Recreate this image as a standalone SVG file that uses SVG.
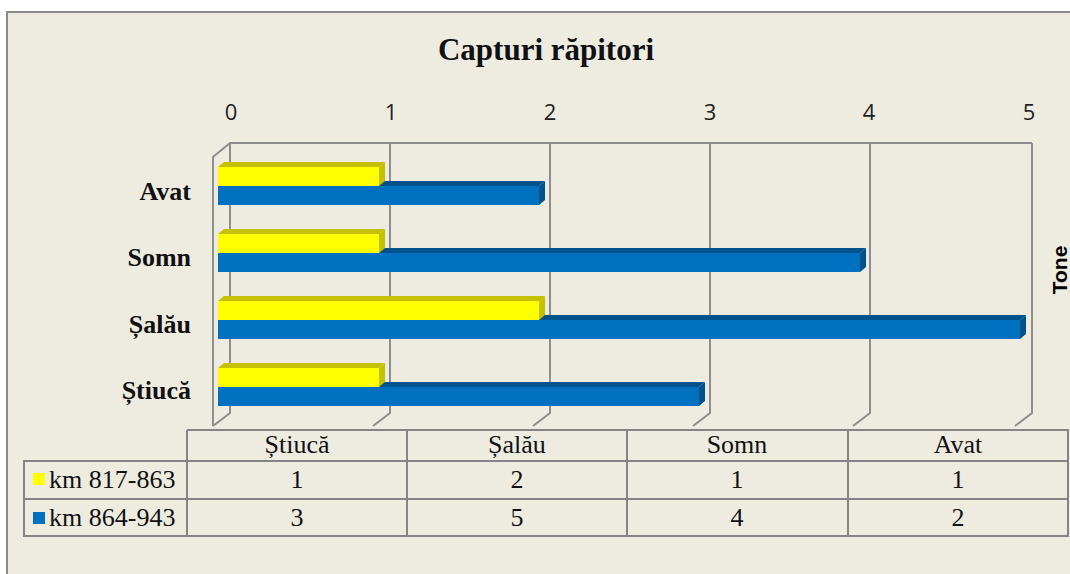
<svg xmlns="http://www.w3.org/2000/svg" width="1070" height="574" viewBox="0 0 1070 574">
<defs>
<style>
.grid{stroke:#8e8e8e;stroke-width:2;fill:none}
.tb{stroke:#858585;stroke-width:2;fill:none}
.yf{fill:#FFFF00}
.yd{fill:#C6C000}
.bf{fill:#0070C0}
.bd{fill:#00528C}
.title{font-family:"Liberation Serif","Times New Roman",serif;font-weight:bold;font-size:31px;fill:#111}
.cat{font-family:"Liberation Serif","Times New Roman",serif;font-weight:bold;font-size:26px;fill:#111;text-anchor:end}
.ax{font-family:"Open Sans","Liberation Sans",sans-serif;font-size:22px;fill:#222;text-anchor:middle}
.tt{font-family:"Liberation Serif","Times New Roman",serif;font-size:26px;fill:#111;text-anchor:middle}
.lg{font-family:"Liberation Serif","Times New Roman",serif;font-size:26px;fill:#111}
.tone{font-family:"Liberation Sans",Arial,sans-serif;font-weight:bold;font-size:21px;fill:#000;text-anchor:middle}
</style>
</defs>
<rect x="0" y="0" width="1070" height="574" fill="#ffffff"/>
<rect x="7" y="12" width="1075" height="580" fill="#EEECE1" stroke="#8a8a8a" stroke-width="2"/>

<g id="title"><text class="title" x="546" y="60" text-anchor="middle">Capturi răpitori</text></g>

<g id="axis-labels">
<text class="ax" x="231" y="120">0</text>
<text class="ax" x="391" y="120">1</text>
<text class="ax" x="550" y="120">2</text>
<text class="ax" x="710" y="120">3</text>
<text class="ax" x="869" y="120">4</text>
<text class="ax" x="1029" y="120">5</text>
</g>

<g id="tone"><text class="tone" transform="translate(1067,270) rotate(-90)">Tone</text></g>

<g id="plot-frame">
<path class="grid" d="M213,426 V157 L230,143 H1032"/>
<path class="grid" d="M230,143 V413 L213,426"/>
<path class="grid" d="M390,143 V413 L373,426"/>
<path class="grid" d="M550,143 V413 L533,426"/>
<path class="grid" d="M710,143 V413 L693,426"/>
<path class="grid" d="M870,143 V413 L853,426"/>
<path class="grid" d="M1032,143 V413 L1015,426"/>
</g>

<g id="categories">
<text class="cat" x="191" y="200">Avat</text>
<text class="cat" x="191" y="266">Somn</text>
<text class="cat" x="191" y="333">Șalău</text>
<text class="cat" x="191" y="399">Știucă</text>
</g>

<g id="bar-avat">
<polygon class="bd" points="218,186 224,181 545,181 539,186"/>
<polygon class="bd" points="539,186 545,181 545,200 539,205"/>
<rect class="bf" x="218" y="186" width="321" height="19"/>
<polygon class="yd" points="218,167 224,162 385,162 379,167"/>
<polygon class="yd" points="379,167 385,162 385,181 379,186"/>
<rect class="yf" x="218" y="167" width="161" height="19"/>
</g>

<g id="bar-somn">
<polygon class="bd" points="218,253 224,248 866,248 860,253"/>
<polygon class="bd" points="860,253 866,248 866,267 860,272"/>
<rect class="bf" x="218" y="253" width="642" height="19"/>
<polygon class="yd" points="218,234 224,229 385,229 379,234"/>
<polygon class="yd" points="379,234 385,229 385,248 379,253"/>
<rect class="yf" x="218" y="234" width="161" height="19"/>
</g>

<g id="bar-salau">
<polygon class="bd" points="218,320 224,315 1026,315 1020,320"/>
<polygon class="bd" points="1020,320 1026,315 1026,334 1020,339"/>
<rect class="bf" x="218" y="320" width="802" height="19"/>
<polygon class="yd" points="218,301 224,296 545,296 539,301"/>
<polygon class="yd" points="539,301 545,296 545,315 539,320"/>
<rect class="yf" x="218" y="301" width="321" height="19"/>
</g>

<g id="bar-stiuca">
<polygon class="bd" points="218,387 224,382 705,382 699,387"/>
<polygon class="bd" points="699,387 705,382 705,401 699,406"/>
<rect class="bf" x="218" y="387" width="481" height="19"/>
<polygon class="yd" points="218,368 224,363 385,363 379,368"/>
<polygon class="yd" points="379,368 385,363 385,382 379,387"/>
<rect class="yf" x="218" y="368" width="161" height="19"/>
</g>

<g id="data-table">
<path class="tb" d="M187,430 H1068 V536 H24 V461 H1068 M24,499 H1068 M187,430 V536 M407,430 V536 M627,430 V536 M848,430 V536"/>
<text class="tt" x="297" y="453">Știucă</text>
<text class="tt" x="517" y="453">Șalău</text>
<text class="tt" x="737" y="453">Somn</text>
<text class="tt" x="958" y="453">Avat</text>
<rect x="33" y="473" width="12" height="12" fill="#FFFF00"/>
<text class="lg" x="49" y="488">km 817-863</text>
<rect x="33" y="512" width="12" height="12" fill="#0070C0"/>
<text class="lg" x="49" y="526">km 864-943</text>
<text class="tt" x="297" y="488">1</text>
<text class="tt" x="517" y="488">2</text>
<text class="tt" x="737" y="488">1</text>
<text class="tt" x="958" y="488">1</text>
<text class="tt" x="297" y="526">3</text>
<text class="tt" x="517" y="526">5</text>
<text class="tt" x="737" y="526">4</text>
<text class="tt" x="958" y="526">2</text>
</g>
</svg>
